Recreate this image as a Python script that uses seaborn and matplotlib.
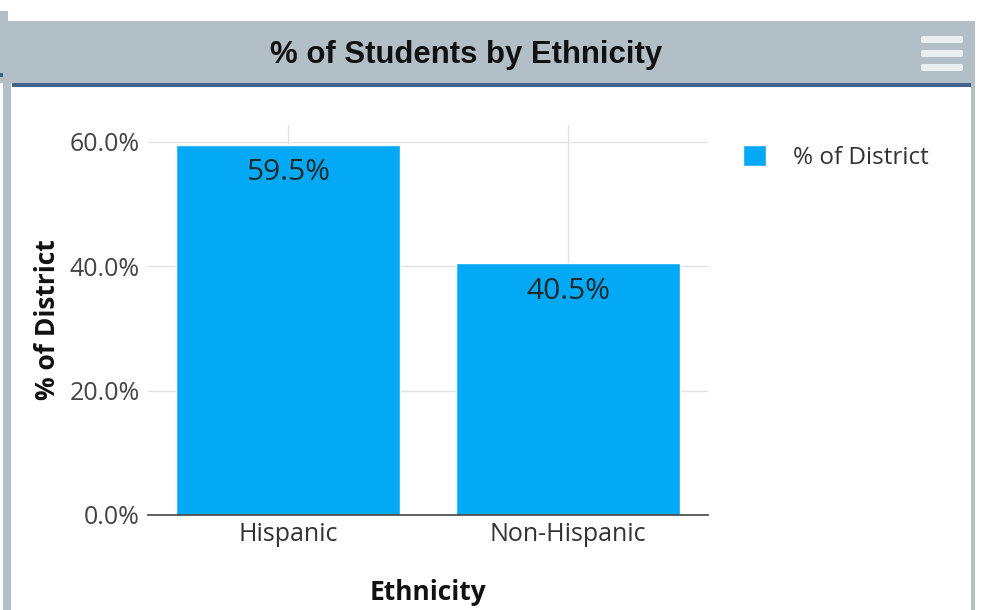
import matplotlib
matplotlib.use("Agg")
import matplotlib.pyplot as plt
import matplotlib.patches as mpatches
import seaborn as sns
import pandas as pd

# data
categories = ["Hispanic", "Non-Hispanic"]
pct_of_district = [59.5, 40.5]
series_name = "% of District"
y_ticks = [0, 20, 40, 60]
y_tick_labels = ["0.0%", "20.0%", "40.0%", "60.0%"]

bar_color = "#03a9f4"
header_gray = "#b3bfc6"
header_line = "#44628c"

sns.set_theme(style="whitegrid")
plt.rcParams["font.family"] = ["Open Sans", "DejaVu Sans"]

W, H = 991, 610
fig = plt.figure(figsize=(W / 100, H / 100), dpi=100)
fig.patch.set_facecolor("white")


def px_rect(x0, y0, x1, y1, color, **kw):
    # rectangle in image pixel coords (top-left origin)
    r = mpatches.Rectangle((x0, H - y1), x1 - x0, y1 - y0, transform=None,
                           facecolor=color, edgecolor="none", zorder=0, **kw)
    fig.patches.append(r)


# panel frame / header
px_rect(0, 11, 8, 21, header_gray)
px_rect(0, 21, 975, 83, header_gray)
px_rect(0, 73, 3, 77, header_line)
px_rect(3, 77, 11, 610, header_gray)
px_rect(12, 83, 971, 87, header_line)
px_rect(971, 83, 975, 610, header_gray)
for yb in (36, 50, 64):
    fig.patches.append(mpatches.FancyBboxPatch(
        (921, H - yb - 7), 42, 7, boxstyle="round,pad=0,rounding_size=2",
        transform=None, facecolor="#eaf0f2", edgecolor="none", zorder=1))

fig.text(466 / W, 1 - 55 / H, "% of Students by Ethnicity", ha="center", va="center",
         fontsize=22.4, fontweight="bold", family=["Liberation Sans", "DejaVu Sans"],
         color="#111111")

# plot area
ax = fig.add_axes([148 / W, 95 / H, 560 / W, 390 / H])
df = pd.DataFrame({"Ethnicity": categories, "pct": pct_of_district,
                   "series": [series_name] * len(categories)})
sns.barplot(data=df, x="Ethnicity", y="pct", hue="series",
            palette={series_name: bar_color}, width=0.8, saturation=1,
            ax=ax, legend=True)

ax.set_xlim(-0.5, 1.5)
ax.set_ylim(0, 62.7)
ax.set_yticks(y_ticks)
ax.set_yticklabels(y_tick_labels)
ax.grid(True, color="#e1e1e1", linewidth=1)
ax.set_axisbelow(True)
for s in ("left", "right", "top"):
    ax.spines[s].set_visible(False)
ax.spines["bottom"].set_color("#444444")
ax.spines["bottom"].set_linewidth(1.2)
ax.tick_params(axis="y", labelsize=18, colors="#444444", length=0, pad=6)
ax.tick_params(axis="x", labelsize=18, colors="#333333", length=0, pad=5)

for i, v in enumerate(pct_of_district):
    ax.annotate(f"{v:.1f}%", xy=(i, v), xytext=(0, -28), textcoords="offset pixels",
                ha="center", va="center", fontsize=21.5, color="#1e2a2a")

ax.set_ylabel("% of District", fontsize=19, fontweight="bold", color="#111111")
ax.set_xlabel("Ethnicity", fontsize=19, fontweight="bold", color="#111111")
ax.yaxis.set_label_coords((61 - 148) / 560, 0.5)
ax.xaxis.set_label_coords(0.5, (515 - 579) / 390)

handles, labels = ax.get_legend_handles_labels()
ax.legend(handles, labels, loc="upper left", bbox_to_anchor=(721 / W, 1 - 123 / H),
          bbox_transform=fig.transFigure, frameon=False, fontsize=17.5,
          handlelength=0.95, handleheight=0.95, handletextpad=1.1, labelcolor="#333333")

fig.savefig("out.png", dpi=100)
